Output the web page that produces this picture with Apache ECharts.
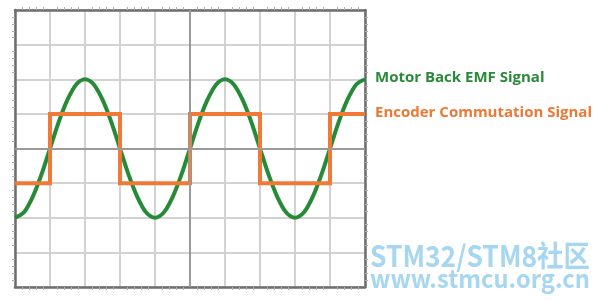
<!DOCTYPE html>
<html>
<head>
<meta charset="utf-8">
<script src="https://cdn.jsdelivr.net/npm/echarts@6/dist/echarts.min.js"></script>
<style>
html,body{margin:0;padding:0;background:#fff;}
#c{width:600px;height:302px;}
</style>
</head>
<body>
<div id="c"></div>
<script>
// Data (divisions on an oscilloscope-like grid)
const seriesNames = ['Motor Back EMF Signal', 'Encoder Commutation Signal'];
const emfX = [0,0.25,0.5,0.75,1,1.25,1.5,1.75,2,2.25,2.5,2.75,3,3.25,3.5,3.75,4,4.25,4.5,4.75,5,
              5.25,5.5,5.75,6,6.25,6.5,6.75,7,7.25,7.5,7.75,8,8.25,8.5,8.75,9,9.25,9.5,9.75,10];
const emfY = [-2,-1.85,-1.41,-0.77,0,0.77,1.41,1.85,2,1.85,1.41,0.77,0,-0.77,-1.41,-1.85,-2,-1.85,-1.41,-0.77,0,
              0.77,1.41,1.85,2,1.85,1.41,0.77,0,-0.77,-1.41,-1.85,-2,-1.85,-1.41,-0.77,0,0.77,1.41,1.85,2];
const encX = [0,1,1,3,3,5,5,7,7,9,9,10];
const encY = [-1,-1,1,1,-1,-1,1,1,-1,-1,1,1];
const centerX = 5;
const centerY = 0;
const watermark = ['STM32/STM8社区', 'www.stmcu.org.cn'];

function textWidth(text, font) {
  const cv = document.createElement('canvas').getContext('2d');
  cv.font = font;
  return cv.measureText(text).width;
}
const wmFont1 = 'bold 29px "Noto Sans CJK SC"';
const wmFont2 = 'bold 25px "Noto Sans CJK SC"';
const wmWidth = 220;
const s1 = wmWidth / textWidth(watermark[0], wmFont1);
const s2 = wmWidth / textWidth(watermark[1], wmFont2);

const chart = echarts.init(document.getElementById('c'), null, {renderer: 'canvas'});
const frameColor = '#6e6e6e';
const gridColor = '#d2d2d2';
function xAx(pos, split) {
  return {
    type: 'value', position: pos, min: 0, max: 10, interval: 1,
    axisLine: {show: true, onZero: false, lineStyle: {color: frameColor, width: 2.5}},
    axisTick: {show: false},
    minorTick: {show: true, splitNumber: 5, length: 3, lineStyle: {color: '#b0b0b0', width: 1}},
    axisLabel: {show: false},
    splitLine: {show: split, lineStyle: {color: gridColor, width: 2}},
    minorSplitLine: {show: false}
  };
}
function yAx(pos, split) {
  return {
    type: 'value', position: pos, min: -4, max: 4, interval: 1,
    axisLine: {show: true, onZero: false, lineStyle: {color: frameColor, width: 2.5}},
    axisTick: {show: false},
    minorTick: {show: true, splitNumber: 5, length: 3, lineStyle: {color: '#b0b0b0', width: 1}},
    axisLabel: {show: false},
    splitLine: {show: split, lineStyle: {color: gridColor, width: 2}},
    minorSplitLine: {show: false}
  };
}
const option = {
  animation: false,
  grid: {left: 15, top: 10, width: 350, height: 277, containLabel: false},
  xAxis: [xAx('bottom', true), xAx('top', false)],
  yAxis: [yAx('left', true), yAx('right', false)],
  series: [
    {
      type: 'line', name: 'center', data: [], silent: true,
      markLine: {
        silent: true, symbol: 'none', label: {show: false},
        lineStyle: {color: '#9a9a9a', width: 2, type: 'solid'},
        data: [{xAxis: centerX}, {yAxis: centerY}]
      }
    },
    {
      type: 'line', name: seriesNames[0], smooth: 0.3, showSymbol: false,
      data: emfX.map((x, i) => [x, emfY[i]]),
      lineStyle: {color: '#268b37', width: 4},
      z: 3
    },
    {
      type: 'line', name: seriesNames[1], showSymbol: false,
      data: encX.map((x, i) => [x, encY[i]]),
      lineStyle: {color: '#f07a35', width: 4, join: 'miter'},
      z: 4
    }
  ],
  graphic: [
    {type: 'text', x: 375, y: 78, style: {text: seriesNames[0], font: 'bold 15px "Open Sans"', fill: '#2a8a3a', verticalAlign: 'middle'}},
    {type: 'text', x: 375, y: 113, style: {text: seriesNames[1], font: 'bold 15px "Open Sans"', fill: '#ee7733', verticalAlign: 'middle'}},
    {type: 'text', x: 370, y: 256, scaleX: s1, style: {text: watermark[0], font: wmFont1, fill: '#a6d6f0', verticalAlign: 'middle'}},
    {type: 'text', x: 370, y: 278, scaleX: s2, style: {text: watermark[1], font: wmFont2, fill: '#a6d6f0', verticalAlign: 'middle'}}
  ]
};
chart.setOption(option);
</script>
</body>
</html>
